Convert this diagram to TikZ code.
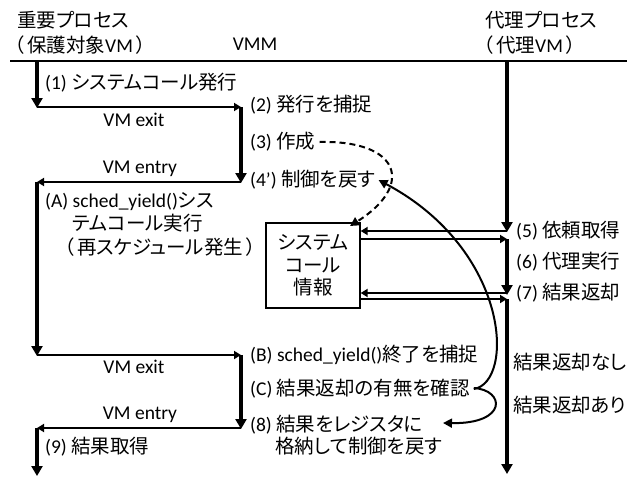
\documentclass[tikz,border=0pt]{standalone}
\usepackage{fontspec}
\setmainfont{Noto Sans CJK JP}[RawFeature=+palt]
\newfontfamily\latf{Carlito}
\newcommand{\lt}[1]{{\latf #1}}
\usetikzlibrary{arrows.meta}
\begin{document}
\begin{tikzpicture}[x=1pt,y=-1pt,
  thickarr/.style={line width=3.6pt,-{Triangle[length=10pt,width=11pt]}},
  thinarr/.style={line width=1.8pt,-{Triangle[length=7pt,width=8pt]}},
  curvearr/.style={line width=2pt,-{Triangle[length=9pt,width=9pt]}},
  lbl/.style={anchor=west,inner sep=0pt,font=\fontsize{19.5}{21}\selectfont},
  clbl/.style={anchor=center,inner sep=0pt,font=\fontsize{19.5}{21}\selectfont},
  infobox/.style={draw,line width=1.3pt,minimum width=94pt,minimum height=85pt,inner sep=0pt,align=center,font=\fontsize{19.5}{22.5}\selectfont}
]
\useasboundingbox (0,0) rectangle (632,477);
% top line
\coordinate (tl) at (10,61);
\coordinate (tr) at (627,61);
\draw[line width=1.2pt] (tl) -- (tr);
% headers
\node[lbl] (h1a) at (17,20) {重要プロセス};
\node[lbl] (h1b) at (14,45) {（\,保護対象\lt{VM}\,）};
\node[clbl] (h2) at (255,44) {\lt{VMM}};
\node[lbl] (h3a) at (485,20) {代理プロセス};
\node[lbl] (h3b) at (483,45) {（\,代理\lt{VM}\,）};
% coordinates
\coordinate (L0) at (37,61);
\coordinate (L1) at (37,107);
\coordinate (V1) at (241,107);
\coordinate (V2) at (241,182);
\coordinate (L2) at (37,182);
\coordinate (L3) at (37,355);
\coordinate (V3) at (241,355);
\coordinate (V4) at (241,428);
\coordinate (L4) at (37,428);
\coordinate (L5) at (37,476);
\coordinate (P0) at (507,61);
\coordinate (P1) at (507,231);
\coordinate (P1b) at (507,239);
\coordinate (P2) at (507,293);
\coordinate (P2b) at (507,299);
\coordinate (P3) at (507,474);
% lifeline arrows
\draw[thickarr] (L0) -- ([yshift=-1pt]L1);
\draw[thinarr] (L1) -- (V1);
\draw[thickarr] (V1) -- ([yshift=-1pt]V2);
\draw[thinarr] (V2) -- (L2);
\draw[thickarr] (L2) -- ([yshift=-1pt]L3);
\draw[thinarr] (L3) -- (V3);
\draw[thickarr] (V3) -- ([yshift=-1pt]V4);
\draw[thinarr] (V4) -- (L4);
\draw[thickarr] (L4) -- (L5);
% box
\node[infobox] (box) at (313,265.5) {システム\\コール\\情報};
\draw[thickarr] (P0) -- ([yshift=-1pt]P1);
\draw[thinarr] (P1) -- (box.east |- P1);
\draw[thinarr] (box.east |- P1b) -- (P1b);
\draw[thickarr] (P1b) -- ([yshift=-2pt]P2);
\draw[thinarr] (P2) -- (box.east |- P2);
\draw[thinarr] (box.east |- P2b) -- (P2b);
\draw[thickarr] (P2b) -- (P3);
% labels
\node[lbl] (s1) at (45,83) {\lt{(1) }システムコール発行};
\node[lbl] (s2) at (250,105) {\lt{(2) }発行を捕捉};
\node[clbl] (ex1) at (134,120) {\lt{VM exit}};
\node[lbl] (s3) at (250,142) {\lt{(3) }作成};
\node[clbl] (en1) at (140,169) {\lt{VM entry}};
\node[lbl] (s4) at (250,180) {\lt{(4’) }制御を戻す};
\node[lbl] (sA1) at (45,202) {\lt{(A) sched\_yield()}シス};
\node[lbl] (sA2) at (72,223) {テムコール実行};
\node[lbl] (sA3) at (64,247) {（\,再スケジュール発生\,）};
\node[lbl] (s5) at (516,231) {\lt{(5) }依頼取得};
\node[lbl] (s6) at (516,262) {\lt{(6) }代理実行};
\node[lbl] (s7) at (516,293) {\lt{(7) }結果返却};
\node[lbl] (sB) at (250,355) {\lt{(B) sched\_yield()}終了を捕捉};
\node[lbl] (n1) at (513,362) {結果返却なし};
\node[lbl] (sC) at (250,389) {\lt{(C) }結果返却の有無を確認};
\node[lbl] (n2) at (513,405) {結果返却あり};
\node[lbl] (s8a) at (250,425) {\lt{(8) }結果をレジスタに};
\node[lbl] (s8b) at (275,446) {格納して制御を戻す};
\node[lbl] (s9) at (45,447) {\lt{(9) }結果取得};
\node[clbl] (ex2) at (134,367) {\lt{VM exit}};
\node[clbl] (en2) at (140,415) {\lt{VM entry}};
% curves
\draw[line width=2pt,dash pattern=on 6pt off 4pt,-{Triangle[length=9pt,width=9pt]}]
  ([xshift=4pt]s3.east) .. controls (400,140) and (415,185) .. (350,226);
\draw[curvearr] ([xshift=4pt]sC.east) .. controls (515,382) and (510,250) .. ([xshift=3pt]s4.east);
\draw[curvearr] ([xshift=4pt,yshift=1pt]sC.east) .. controls (505,390) and (508,424) .. (443,423);
\end{tikzpicture}
\end{document}
